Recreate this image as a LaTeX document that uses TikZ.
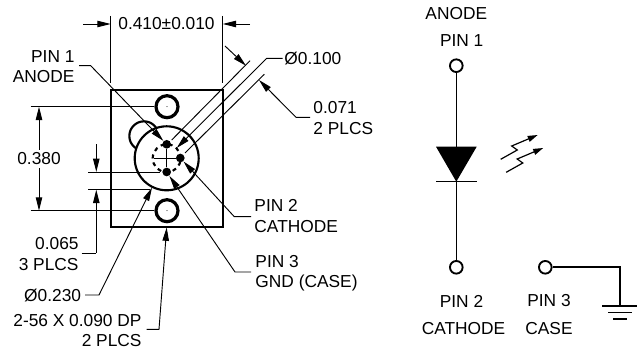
\documentclass[tikz,border=0pt]{standalone}
\usepackage{fontspec}
\setmainfont{Liberation Sans}
\usetikzlibrary{arrows.meta}

\begin{document}
\begin{tikzpicture}
  [x=.75pt,y=-.75pt,line width=.7pt,inner sep=0pt,
   every node/.style={font=\fontsize{13}{15.5}\selectfont},
   tip/.style={-{Triangle[length=10pt,width=4.8pt]}},
   hole/.style={circle,draw,line width=2.4pt,minimum size=16.5pt},
   pindot/.style={circle,fill=black,minimum size=6.5pt},
   ledpin/.style={circle,draw,fill=white,line width=1.4pt,minimum size=9.5pt},
   bold/.style={line width=1.6pt}]
  \useasboundingbox (0,0) rectangle (639,348);

  % housing seen from the pin side
  \coordinate (bodyA) at (110.7,90);
  \coordinate (bodyB) at (222.7,226.7);
  \draw[bold] (bodyA) rectangle (bodyB);

  \node[hole] (holeT) at (167,106.7) {};
  \node[hole] (holeB) at (167,210.7) {};
  \node[circle,draw,bold,minimum size=22pt] (tab) at (144,136) {};
  \node[circle,draw,bold,fill=white,minimum size=48pt] (can) at (166.7,158.3) {};
  \node[circle,draw,bold,dashed,minimum size=21pt] (bolt) at (166.7,158.3) {};
  \node[pindot] (pin1) at (166.7,144.3) {};
  \node[pindot] (pin2) at (180.3,158) {};
  \node[pindot] (pin3) at (166.7,172) {};
  \fill (holeT) circle (.4pt) (holeB) circle (.4pt);

  \coordinate (crossW) at (154,158);
  \draw (pin1) -- (pin3);
  \draw (crossW) -- (pin2);

  % labels
  \node (w410) at (166.5,24) {0.410±0.010};
  \node[inner sep=2pt] (h380) at (39,159) {0.380};
  \node[anchor=north east,align=right] (lblPin1) at (75,49.8) {PIN 1\\ANODE};
  \node[anchor=west] (d100) at (284,58.3) {Ø0.100};
  \node[anchor=north west,align=left] (d071) at (313,100.8) {0.071\\2 PLCS};
  \node[anchor=north west,align=left] (lblPin2) at (254,198.8) {PIN 2\\CATHODE};
  \node[anchor=north west,align=left] (lblPin3) at (255,254.5) {PIN 3\\GND (CASE)};
  \node[anchor=north east,align=right] (h065) at (79,237.1) {0.065\\3 PLCS};
  \node[anchor=east] (d230) at (81.5,295.7) {Ø0.230};
  \node[anchor=north east,align=right] (thread) at (142,313.5) {2-56 X 0.090 DP\\2 PLCS};

  % dimension ends, extension lines and leader bends
  \foreach \name/\x/\y in {wLa/110.7/16,wLb/110.7/83,wRa/222.7/16,wRb/222.7/83,
      wArrL/83/24,wTipL/110.7/24,wArrR/250/24,wTipR/222.7/24,
      hExtT/30.7/106.7,hExtB/30.7/210.7,hTipT/39/106.7,hTipB/39/210.7,
      sExtT/88.3/172,sEndT/160/172,sExtB/88.3/189.7,sEndB/150/189.7,
      sArrT/96.3/144.3,sTipT/96.3/172,sTipB/96.3/189.7,sBend/96.3/253,sFree/81.7/253,
      p1a/79/65.7,p1b/90.7/65.7,p2a/251/216.7,p2b/234.3/216.7,p3a/251/272,p3b/235/272,
      lnAa/250/60.7,lnAb/171.7/140,lnBa/282.7/58.3,lnBb/266.7/58.3,lnBt/176.7/148,
      lnCa/264.3/74.3,lnCb/185/153,
      dArr/225/46,dTip/246/65.7,
      wireA/310/117.3,wireB/296/117.3,wireT/259/80,
      cA/85/295,cB/99/295,cT/152/187.7,
      thA/146.7/329.3,thB/159/329.3,thT/166.7/227.5}
    \coordinate (\name) at (\x,\y);

  \foreach \from/\to in {wLa/wLb,wRa/wRb,hExtT/holeT,hExtB/holeB,
      sExtT/sEndT,sExtB/sEndB,lnAa/lnAb,lnCa/lnCb}
    \draw (\from) -- (\to);

  \foreach \from/\to in {wArrL/wTipL,wArrR/wTipR,h380/hTipT,h380/hTipB,
      sArrT/sTipT,sBend/sTipB,dArr/dTip}
    \draw[tip] (\from) -- (\to);

  \draw (sFree) -- (sBend);
  \draw[tip] (p1a) -- (p1b) -- (pin1);
  \draw[tip] (p2a) -- (p2b) -- (pin2);
  \draw[tip] (p3a) -- (p3b) -- (pin3);
  \draw[tip] (lnBa) -- (lnBb) -- (lnBt);
  \draw[tip] (wireA) -- (wireB) -- (wireT);
  \draw[tip] (cA) -- (cB) -- (cT);
  \draw[tip] (thA) -- (thB) -- (thT);

  % schematic
  \node (sAnode) at (456.3,14) {ANODE};
  \node (sPin1) at (461.7,40.7) {PIN 1};
  \node (sPin2) at (461.5,301) {PIN 2};
  \node (sCath) at (463.5,329) {CATHODE};
  \node (sPin3) at (549,301) {PIN 3};
  \node (sCase) at (549,329) {CASE};

  \coordinate (triL) at (436,146.7);
  \coordinate (triR) at (476.7,146.7);
  \coordinate (triT) at (456.3,181.7);
  \coordinate (barL) at (436,181.7);
  \coordinate (barR) at (477,181.7);
  \coordinate (gndC) at (620,267.3);
  \coordinate (gndD) at (620,306);

  \node[ledpin] (ledA) at (456.3,65.7) {};
  \node[ledpin] (ledC) at (456.3,267.3) {};
  \node[ledpin] (ledG) at (545.3,267.3) {};

  \draw[line width=1pt] (ledA) -- (triT) -- (ledC);
  \fill (triL) -- (triR) -- (triT) -- cycle;
  \draw[line width=1pt] (barL) -- (barR);
  \draw[line width=1.2pt] (ledG) -- (gndC) -- (gndD);

  \foreach \y/\a/\b in {306/602.3/637.3,312.3/608.3/631.7,319/613.3/626.7}
    \draw[line width=1.1pt] (\a,\y) -- (\b,\y);

  \foreach \dx/\dy in {0/0,5.5/13}
    \draw[-{Triangle[length=7.5pt,width=4.5pt]},line width=.9pt,shift={(\dx,\dy)}]
      (500.7,159.3) -- (517.3,150) -- (511.7,146) -- (537.7,135);

\end{tikzpicture}
\end{document}
